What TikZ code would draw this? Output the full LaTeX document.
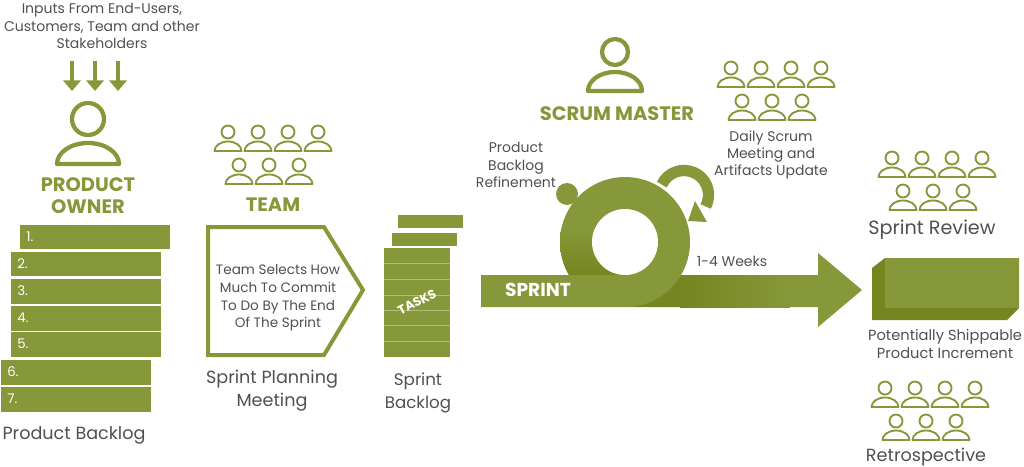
\documentclass[tikz,border=0pt]{standalone}
\usepackage{fontspec}
\setmainfont{Poppins}
\usetikzlibrary{arrows.meta}
\definecolor{olive}{HTML}{87983A}
\definecolor{darkolive}{HTML}{75851F}
\definecolor{inkgray}{HTML}{505050}
\tikzset{
 lab/.style={text=inkgray,font=\fontsize{10.5}{13}\selectfont,align=center,inner sep=0pt},
 biglab/.style={text=inkgray,font=\fontsize{13.2}{17}\selectfont,align=center,inner sep=0pt},
 rolelab/.style={text=olive,font=\fontsize{14.6}{17}\selectfont\bfseries,align=center,inner sep=0pt},
 rowlab/.style={text=white,font=\fontsize{10}{11}\selectfont,anchor=west,inner sep=0pt},
 row/.style={fill=olive}
}
% one small figure, head centre at (#1,#2)
\newcommand{\member}[2]{
 \draw[olive,line width=1.4pt] (#1,#2) circle(6.5);
 \draw[olive,line width=1.4pt,line join=round] (#1-13.5,#2-19) arc[start angle=180,end angle=0,x radius=13.5,y radius=9.5] -- cycle;}
% seven figures, four over three
\newcommand{\crowd}[2]{
 \foreach \dx in {0,30,60,90}{\member{#1+\dx}{#2}}
 \foreach \dx in {11,41,71}{\member{#1+\dx}{#2-33}}}
% large figure: head centre, head radius, half width, body bottom, body height
\newcommand{\leader}[6]{
 \draw[olive,line width=3.2pt] (#1,#2) circle(#3);
 \draw[olive,line width=3.2pt,line join=round] (#1-#4,#5) arc[start angle=180,end angle=0,x radius=#4,y radius=#6] -- cycle;}
\begin{document}
\begin{tikzpicture}[x=.75pt,y=.75pt]
\useasboundingbox (0,0) rectangle (1024,-467);
% product owner column
\node[lab] (inputs) at (102,-26) {Inputs From End-Users,\\Customers, Team and other\\Stakeholders};
\foreach \x/\name in {72/a,95/b,118/c}{
 \coordinate (in\name) at (\x,-61); \coordinate (to\name) at (\x,-91);
 \draw[olive,line width=3.4pt,-{Triangle[width=13pt,length=8pt]}] (in\name)--(to\name);}
\leader{88}{-119}{16}{31}{-164}{21}
\node[rolelab] (owner) at (88,-195.5) {PRODUCT\\OWNER};
\foreach \n/\x/\y in {1/20/-224.5,2/11/-251.5,3/11/-279,4/11/-306,5/11/-332,6/1/-360,7/1/-387}{
 \fill[row] (\x,\y) rectangle ++(150,-24.5);
 \node[rowlab] (item\n) at (\x+6,\y-12) {\n.};}
\node[biglab] (backlog) at (74,-435) {Product Backlog};
% planning meeting
\crowd{228}{-132}
\node[rolelab] (team) at (273,-205) {TEAM};
\draw[olive,line width=3pt] (208,-227)--(324,-227)--(363,-290)--(324,-355)--(208,-355)--cycle;
\node[lab,font=\fontsize{10.2}{13.2}\selectfont] (selects) at (278,-298) {Team Selects How\\Much To Commit\\To Do By The End\\Of The Sprint};
\node[biglab] (planning) at (272,-390.5) {Sprint Planning\\Meeting};
% task stack
\fill[row] (398,-215) rectangle (463,-228);
\fill[row] (392,-233) rectangle (457,-245.5);
\fill[row] (384,-248) rectangle (450,-357);
\foreach \y in {263,279,295,310,325,341}{\draw[white,opacity=.35,line width=.6pt] (384,-\y)--(450,-\y);}
\node[rowlab,anchor=center,font=\fontsize{9.5}{11}\selectfont\bfseries,rotate=27] (tasks) at (417,-302) {TASKS};
\node[biglab,font=\fontsize{12.5}{17}\selectfont] (sprintlog) at (418,-393) {Sprint\\Backlog};
% sprint arrow and cycle
\fill[olive] (481,-275)--(818,-275)--(818,-253)--(862,-290)--(818,-327)--(818,-307)--(481,-307)--cycle;
\fill[darkolive] (600,-275) rectangle (680,-307);
\shade[left color=darkolive,right color=olive] (680,-275) rectangle (790,-307);
\fill[olive] (625,-242) circle(65);
\begin{scope}
 \clip (625,-242) circle(65);
 \shade[top color=olive,bottom color=darkolive] (555,-228) rectangle (625,-276);
\end{scope}
\fill[white] (625,-242) circle(33);
\begin{scope}
 \clip (540,-275) rectangle (700,-308);
 \fill[olive] (625,-242) circle(65);
\end{scope}
\fill[olive] (481,-275) rectangle (625,-307);
\fill[olive] (567,-194) circle(11);
\draw[olive,line width=8.5pt] (661.8,-184.6) arc[start angle=155,end angle=-28,radius=24.5];
\fill[olive] (695,-201)--(707,-222)--(688,-221)--cycle;
\node[rowlab,anchor=center,font=\fontsize{14}{15}\selectfont\bfseries] (sprint) at (538,-290) {SPRINT};
\node[lab] (weeks) at (732,-261) {1-4 Weeks};
\node[lab] (refine) at (516,-165) {Product\\Backlog\\Refinement};
\leader{615}{-52}{13}{27}{-91}{19}
\node[rolelab] (master) at (617,-114) {SCRUM MASTER};
\crowd{731}{-68}
\node[lab] (daily) at (771,-155) {Daily Scrum\\Meeting and\\Artifacts Update};
% review, increment, retrospective
\crowd{892}{-158}
\node[biglab,font=\fontsize{14.4}{17}\selectfont] (review) at (932,-230) {Sprint Review};
\fill[darkolive] (872,-268)--(885,-258)--(1019,-258)--(1019,-308)--(1007,-320)--(872,-320)--cycle;
\fill[olive] (885,-258) rectangle (1019,-308);
\node[lab,font=\fontsize{11}{13}\selectfont] (increment) at (945,-344) {Potentially Shippable\\Product Increment};
\crowd{885}{-388}
\node[biglab] (retro) at (926,-457) {Retrospective};
\end{tikzpicture}
\end{document}
